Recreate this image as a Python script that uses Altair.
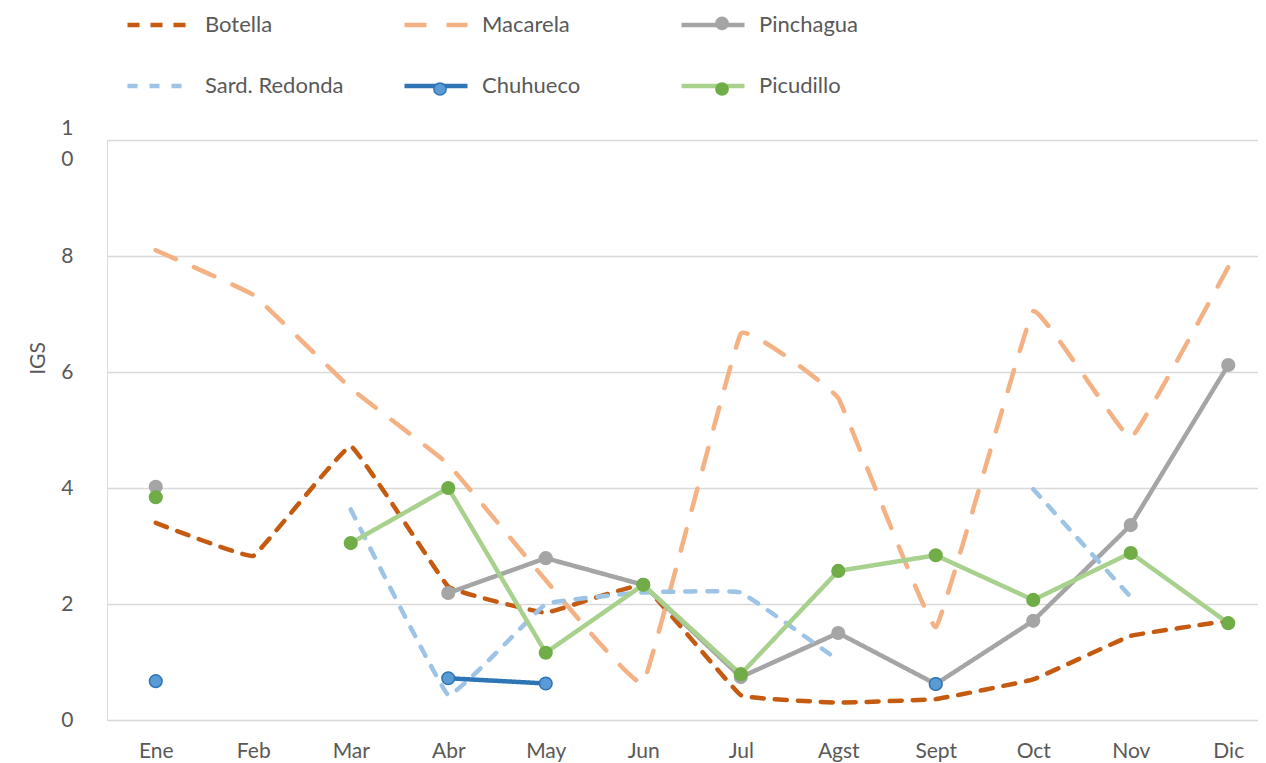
import altair as alt
import pandas as pd

months = ["Ene", "Feb", "Mar", "Abr", "May", "Jun", "Jul", "Agst", "Sept", "Oct", "Nov", "Dic"]
series_names = ["Botella", "Macarela", "Pinchagua", "Sard. Redonda", "Chuhueco", "Picudillo"]

botella = [3.40, 2.83, 4.72, 2.30, 1.85, 2.32, 0.43, 0.30, 0.36, 0.70, 1.45, 1.71]
macarela = [8.10, 7.33, 5.72, 4.41, 2.41, 0.64, 6.66, 5.55, 1.60, 7.05, 4.86, 7.81]
pinchagua = [4.02, None, None, 2.19, 2.79, 2.33, 0.74, 1.50, 0.62, 1.71, 3.36, 6.12]
sard_redonda = [None, None, 3.63, 0.43, 2.00, 2.20, 2.20, 1.03, None, 3.98, 2.12, None]
chuhueco = [0.67, None, None, 0.72, 0.63, None, None, None, 0.62, None, None, None]
picudillo = [3.84, None, 3.05, 4.00, 1.16, 2.33, 0.79, 2.57, 2.84, 2.07, 2.88, 1.67]

values = [botella, macarela, pinchagua, sard_redonda, chuhueco, picudillo]
line_colors = ["#C55A11", "#F4B183", "#A5A5A5", "#9DC3E6", "#2E75B6", "#A9D18E"]
dash_patterns = [[12, 11], [22, 20], [1, 0], [10, 12], [1, 0], [1, 0]]
smooth = [True, True, False, True, False, False]
marker_fills = ["transparent", "transparent", "#A5A5A5", "transparent", "#5B9BD5", "#70AD47"]
marker_strokes = ["transparent", "transparent", "#A5A5A5", "transparent", "#2E75B6", "#70AD47"]
has_marker = [False, False, True, False, True, True]

rows = []
for name, vals in zip(series_names, values):
    seg = 0
    for m, v in zip(months, vals):
        if v is None:
            seg += 1
            continue
        rows.append({"series": name, "mk": name + "_m", "month": m, "igs": v, "seg": f"{name}-{seg}"})
df = pd.DataFrame(rows)

FONT = "Lato"
TXT = "#595959"
FS = 21

line_legend = alt.Legend(
    title=None, orient="none", legendX=18, legendY=-149, direction="horizontal",
    columns=3, symbolSize=3969, symbolType="stroke", symbolStrokeWidth=4.5,
    labelFontSize=22, labelFont=FONT, labelColor=TXT, columnPadding=51,
    rowPadding=16, gridAlign="all", labelOffset=12, labelLimit=300, padding=0,
)
marker_legend = alt.Legend(
    title=None, orient="none", legendX=44, legendY=-124, direction="horizontal",
    columns=3, symbolSize=150, symbolType="circle", symbolStrokeWidth=1.5,
    labelExpr="''", labelFontSize=1, labelOffset=0, columnPadding=262,
    rowPadding=46, gridAlign="all", padding=0,
)

color_scale = alt.Scale(domain=series_names, range=line_colors)
dash_scale = alt.Scale(domain=series_names, range=dash_patterns)
mk_domain = [n + "_m" for n in series_names]
fill_scale = alt.Scale(domain=mk_domain, range=marker_fills)
stroke_scale = alt.Scale(domain=mk_domain, range=marker_strokes)

x_enc = alt.X(
    "month:N", sort=months, title=None,
    scale=alt.Scale(domain=months, range=[0, 1170]),
    axis=alt.Axis(grid=False, ticks=False, domain=False, labelAngle=0, labelPadding=20,
                  labelFontSize=FS, labelColor=TXT, labelFont=FONT),
)
y_enc = alt.Y(
    "igs:Q", scale=alt.Scale(domain=[0, 10], nice=False),
    axis=alt.Axis(values=[0, 2, 4, 6, 8, 10], title="IGS",
                  labelExpr="datum.value == 10 ? ['1', '0'] : datum.label",
                  labelLineHeight=31,
                  labelOffset={"condition": {"test": "datum.value == 10", "value": -12}, "value": 0},
                  ticks=False, domain=False,
                  gridColor="#D9D9D9", gridWidth=1.3, labelPadding=34,
                  labelFontSize=FS, labelColor=TXT, labelFont=FONT,
                  titleFontSize=FS, titleColor=TXT, titleFont=FONT, titleFontWeight="normal",
                  titleX=-69, titleY=218, titleAlign="center", titleBaseline="middle"),
)

base = alt.Chart(df)
layers = []
for i, name in enumerate(series_names):
    sub = base.transform_filter(alt.datum.series == name)
    if smooth[i]:
        mk = sub.mark_line(strokeWidth=4.5, strokeCap="round", strokeJoin="round",
                           interpolate="cardinal", tension=0.8)
    else:
        mk = sub.mark_line(strokeWidth=4.5, strokeCap="round", strokeJoin="round")
    layers.append(mk.encode(
        x=x_enc, y=y_enc,
        color=alt.Color("series:N", scale=color_scale, legend=line_legend),
        strokeDash=alt.StrokeDash("series:N", scale=dash_scale, legend=line_legend),
        detail="seg:N",
    ))
    if has_marker[i]:
        layers.append(sub.mark_point(filled=True, size=160, opacity=1, strokeWidth=1.5,
                                     shape="circle").encode(
            x=x_enc, y=y_enc,
            fill=alt.Fill("mk:N", scale=fill_scale, legend=marker_legend),
            stroke=alt.Stroke("mk:N", scale=stroke_scale, legend=marker_legend),
        ))

chart = alt.layer(*layers).properties(
    width=1151, height=580,
    padding={"left": 99, "top": 132, "right": 0, "bottom": 42},
    autosize=alt.AutoSizeParams(type="none"),
).configure_view(stroke=None).configure(font=FONT)

chart.save("out.html", embed_options={"renderer": "svg", "actions": False})
